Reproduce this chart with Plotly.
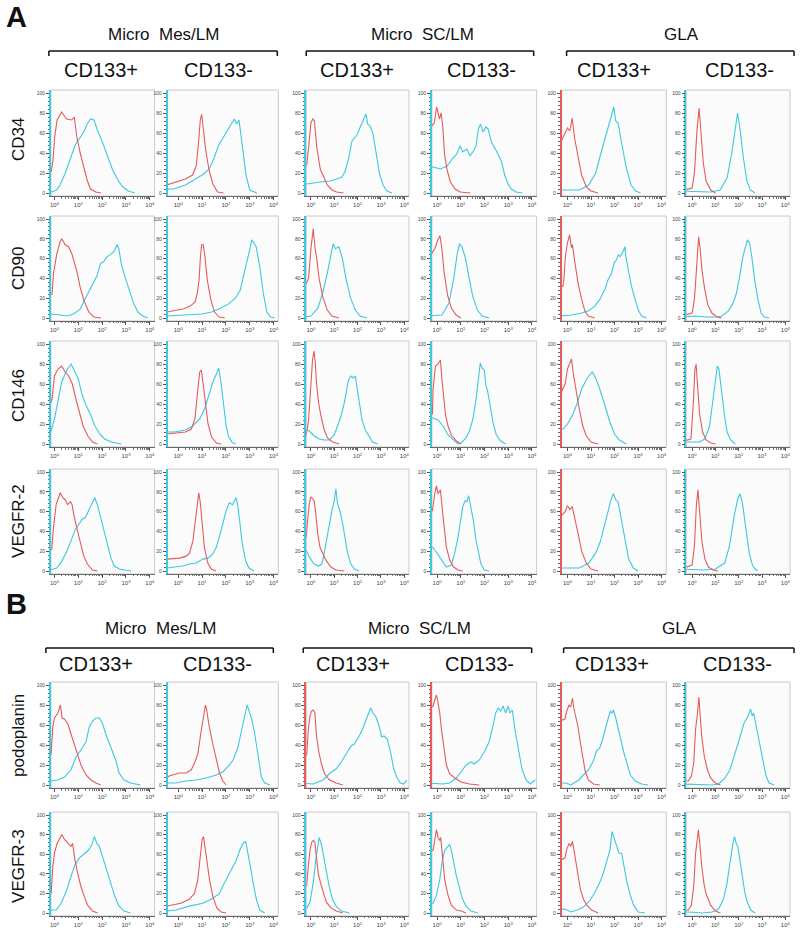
import plotly.graph_objects as go

# ---------------- labels ----------------
ROW_MARKERS = ["CD34", "CD90", "CD146", "VEGFR-2", "podoplanin", "VEGFR-3"]
GROUPS = ["Micro&nbsp; Mes/LM", "Micro&nbsp; SC/LM", "GLA"]
SUBSETS = ["CD133+", "CD133-", "CD133+", "CD133-", "CD133+", "CD133-"]
PANEL_LETTERS = ["A", "B"]
X_TICK_EXP = [0, 1, 2, 3, 4]
Y_TICKS = [0, 20, 40, 60, 80, 100]

# ---------------- data: (log10 fluorescence, % of max) ----------------
# control = red (isotype), stained = cyan; one curve per column
CD34_CONTROL = [
    [(-0.5, 22), (-0.13, 22), (-0.06, 33), (0.01, 56), (0.11, 73), (0.3, 81), (0.51, 74), (0.73, 73), (0.83, 76), (0.94, 56), (1.09, 39), (1.23, 26), (1.37, 13), (1.51, 4), (1.73, 1), (1.95, 0)],
    [(-0.5, 8), (-0.2, 10), (0.3, 14), (0.6, 18), (0.75, 27), (0.85, 50), (0.92, 72), (0.98, 79), (1.05, 65), (1.15, 43), (1.3, 22), (1.45, 9), (1.65, 1), (1.9, 0)],
    [(-0.5, 28), (-0.18, 28), (-0.1, 45), (0, 70), (0.08, 74), (0.15, 72), (0.25, 46), (0.4, 24), (0.55, 16), (0.7, 8), (0.9, 3), (1.1, 1), (1.4, 0)],
    [(-0.5, 60), (-0.12, 70), (-0.02, 86), (0.05, 78), (0.1, 74), (0.17, 80), (0.24, 66), (0.31, 39), (0.42, 23), (0.56, 11), (0.76, 4), (0.97, 1), (1.4, 0)],
    [(-0.5, 40), (-0.1, 60), (0, 65), (0.1, 62), (0.2, 75), (0.3, 55), (0.45, 35), (0.6, 18), (0.8, 6), (1.0, 2), (1.3, 0)],
    [(-0.5, 2), (0, 5), (0.1, 20), (0.2, 60), (0.3, 85), (0.38, 60), (0.48, 30), (0.6, 12), (0.8, 3), (1.0, 0)],
]
CD34_STAINED = [
    [(-0.5, 1), (-0.13, 1), (0.09, 3), (0.23, 8), (0.44, 19), (0.66, 33), (0.87, 48), (1.09, 56), (1.23, 61), (1.37, 69), (1.51, 74), (1.66, 73), (1.8, 63), (2.01, 51), (2.23, 36), (2.44, 23), (2.66, 13), (2.87, 6), (3.09, 2), (3.37, 0)],
    [(-0.5, 4), (-0.2, 4), (0.3, 8), (0.7, 14), (1.0, 18), (1.3, 24), (1.5, 35), (1.7, 48), (2.0, 60), (2.2, 68), (2.35, 74), (2.45, 69), (2.55, 73), (2.7, 45), (2.85, 17), (3.0, 3), (3.3, 0)],
    [(-0.5, 9), (-0.17, 9), (0.4, 11), (0.83, 12), (1.11, 14), (1.33, 16), (1.47, 22), (1.61, 34), (1.76, 52), (1.9, 56), (2.0, 59), (2.11, 66), (2.26, 74), (2.36, 79), (2.43, 69), (2.54, 67), (2.66, 59), (2.8, 39), (2.94, 19), (3.09, 8), (3.26, 2), (3.47, 0)],
    [(-0.5, 26), (-0.17, 26), (0.14, 24), (0.42, 27), (0.63, 34), (0.83, 39), (0.97, 47), (1.08, 41), (1.25, 44), (1.39, 37), (1.53, 42), (1.64, 47), (1.74, 64), (1.83, 69), (1.94, 61), (2.06, 66), (2.15, 64), (2.29, 51), (2.5, 42), (2.71, 32), (2.85, 18), (2.99, 9), (3.13, 4), (3.33, 1), (3.6, 0)],
    [(-0.5, 3), (0.5, 3), (0.9, 8), (1.2, 20), (1.4, 38), (1.6, 55), (1.75, 65), (1.9, 80), (1.97, 86), (2.05, 72), (2.15, 70), (2.3, 50), (2.5, 25), (2.7, 8), (2.9, 2), (3.1, 0)],
    [(-0.5, 2), (0.8, 1), (1.2, 3), (1.5, 15), (1.7, 40), (1.85, 65), (1.95, 80), (2.05, 65), (2.2, 35), (2.35, 12), (2.5, 3), (2.7, 0)],
]

CD90_CONTROL = [
    [(-0.5, 20), (-0.1, 24), (-0.04, 45), (0.1, 65), (0.24, 77), (0.31, 80), (0.45, 74), (0.59, 72), (0.73, 65), (0.83, 57), (0.94, 47), (1.08, 31), (1.23, 18), (1.44, 6), (1.65, 1), (1.95, 0)],
    [(-0.5, 6), (0.2, 9), (0.5, 12), (0.7, 16), (0.8, 25), (0.87, 38), (0.93, 62), (0.98, 74), (1.05, 74), (1.12, 62), (1.22, 38), (1.37, 18), (1.52, 6), (1.72, 1), (1.95, 0)],
    [(-0.5, 20), (-0.1, 40), (0, 70), (0.1, 90), (0.18, 70), (0.25, 60), (0.35, 40), (0.5, 22), (0.7, 8), (0.9, 2), (1.2, 0)],
    [(-0.5, 55), (-0.1, 70), (0.05, 80), (0.12, 83), (0.2, 70), (0.3, 45), (0.45, 22), (0.6, 10), (0.8, 3), (1.0, 0)],
    [(-0.5, 32), (-0.19, 32), (-0.15, 40), (-0.09, 62), (0, 76), (0.09, 84), (0.17, 71), (0.21, 74), (0.31, 57), (0.45, 35), (0.6, 19), (0.74, 7), (0.88, 2), (1.16, 0)],
    [(-0.5, 2), (0, 5), (0.1, 19), (0.17, 45), (0.24, 69), (0.28, 82), (0.34, 71), (0.42, 49), (0.54, 29), (0.68, 13), (0.85, 5), (1.06, 1), (1.27, 0)],
]
CD90_STAINED = [
    [(-0.5, 4), (-0.17, 4), (0.24, 3), (0.52, 2), (0.8, 4), (1.08, 9), (1.3, 20), (1.51, 30), (1.79, 43), (1.93, 55), (2.07, 57), (2.21, 62), (2.35, 64), (2.49, 67), (2.63, 74), (2.7, 70), (2.8, 55), (2.95, 42), (3.1, 30), (3.3, 16), (3.5, 6), (3.7, 2), (3.9, 0)],
    [(-0.5, 2), (0.5, 3), (1.0, 4), (1.4, 6), (1.7, 9), (2.1, 14), (2.4, 20), (2.6, 28), (2.75, 42), (2.88, 57), (3.0, 69), (3.08, 79), (3.17, 76), (3.27, 72), (3.42, 52), (3.57, 25), (3.72, 6), (3.87, 1), (4.05, 0)],
    [(-0.5, 0), (0, 2), (0.3, 10), (0.5, 25), (0.7, 45), (0.85, 65), (0.95, 75), (1.05, 70), (1.2, 72), (1.35, 60), (1.5, 40), (1.7, 20), (1.9, 8), (2.1, 2), (2.4, 0)],
    [(-0.5, 2), (0.2, 3), (0.5, 15), (0.7, 40), (0.85, 65), (0.95, 75), (1.05, 72), (1.2, 60), (1.35, 40), (1.5, 22), (1.7, 8), (1.9, 2), (2.2, 0)],
    [(-0.5, 2), (0.17, 3), (0.6, 5), (0.88, 7), (1.16, 12), (1.38, 19), (1.59, 29), (1.73, 39), (1.87, 45), (1.99, 56), (2.09, 59), (2.16, 64), (2.23, 62), (2.34, 66), (2.44, 72), (2.48, 62), (2.58, 49), (2.72, 32), (2.87, 19), (3.01, 8), (3.15, 2), (3.36, 0)],
    [(-0.5, 1), (0.14, 2), (0.56, 1), (0.99, 1), (1.27, 2), (1.55, 7), (1.76, 15), (1.9, 25), (2.04, 42), (2.18, 62), (2.28, 71), (2.37, 79), (2.46, 76), (2.56, 62), (2.68, 39), (2.82, 19), (2.96, 5), (3.1, 1), (3.31, 0)],
]

CD146_CONTROL = [
    [(-0.5, 20), (-0.1, 45), (0, 68), (0.15, 75), (0.3, 78), (0.45, 72), (0.6, 68), (0.75, 60), (0.9, 45), (1.05, 30), (1.2, 18), (1.4, 8), (1.6, 2), (1.8, 0)],
    [(-0.5, 10), (0.3, 12), (0.55, 15), (0.7, 25), (0.8, 50), (0.9, 72), (0.97, 74), (1.05, 60), (1.15, 40), (1.25, 20), (1.4, 7), (1.6, 1), (1.8, 0)],
    [(-0.5, 9), (-0.2, 9), (-0.1, 24), (0, 64), (0.07, 84), (0.13, 93), (0.19, 81), (0.24, 61), (0.33, 41), (0.43, 28), (0.57, 14), (0.71, 6), (0.93, 2), (1.21, 0)],
    [(-0.5, 30), (-0.2, 30), (-0.17, 55), (-0.07, 78), (0.04, 80), (0.1, 82), (0.14, 84), (0.2, 65), (0.27, 45), (0.35, 30), (0.46, 18), (0.6, 9), (0.81, 3), (1.01, 0)],
    [(-0.5, 40), (-0.1, 60), (0, 75), (0.1, 82), (0.17, 85), (0.25, 70), (0.35, 55), (0.5, 35), (0.65, 18), (0.8, 8), (1.0, 2), (1.3, 0)],
    [(-0.5, 2), (-0.05, 5), (0.05, 40), (0.12, 75), (0.17, 80), (0.23, 60), (0.32, 30), (0.45, 12), (0.6, 4), (0.8, 1), (1.0, 0)],
]
CD146_STAINED = [
    [(-0.5, 10), (-0.18, 10), (0, 25), (0.15, 45), (0.3, 62), (0.45, 70), (0.55, 75), (0.7, 80), (0.85, 72), (1.0, 65), (1.15, 50), (1.3, 40), (1.5, 30), (1.7, 18), (1.9, 10), (2.1, 5), (2.4, 2), (2.8, 0)],
    [(-0.5, 12), (-0.18, 12), (0.3, 14), (0.6, 18), (0.9, 25), (1.1, 35), (1.3, 50), (1.45, 62), (1.6, 70), (1.7, 76), (1.8, 60), (1.9, 40), (2.0, 20), (2.1, 8), (2.25, 2), (2.4, 0)],
    [(-0.5, 14), (-0.19, 14), (-0.07, 13), (0.14, 8), (0.36, 5), (0.57, 4), (0.79, 4), (1.0, 9), (1.14, 18), (1.29, 28), (1.43, 41), (1.53, 54), (1.61, 64), (1.71, 68), (1.81, 66), (1.9, 68), (1.97, 58), (2.07, 41), (2.19, 24), (2.33, 14), (2.47, 8), (2.64, 2), (2.86, 0)],
    [(-0.5, 26), (-0.18, 26), (0.04, 24), (0.25, 18), (0.46, 9), (0.67, 4), (0.88, 0), (1.01, 1), (1.22, 6), (1.36, 13), (1.5, 24), (1.64, 44), (1.75, 64), (1.82, 81), (1.89, 76), (1.99, 74), (2.06, 58), (2.13, 53), (2.24, 38), (2.36, 21), (2.5, 9), (2.68, 3), (2.89, 0)],
    [(-0.5, 15), (-0.18, 15), (0, 20), (0.2, 28), (0.4, 40), (0.6, 55), (0.75, 62), (0.9, 68), (1.05, 72), (1.15, 68), (1.3, 60), (1.45, 50), (1.6, 38), (1.8, 22), (2.0, 10), (2.2, 4), (2.5, 0)],
    [(-0.5, 2), (0.3, 2), (0.55, 5), (0.75, 18), (0.9, 45), (1.0, 65), (1.08, 78), (1.15, 75), (1.25, 55), (1.38, 30), (1.5, 12), (1.65, 4), (1.85, 0)],
]

VEGFR2_CONTROL = [
    [(-0.5, 22), (-0.11, 22), (-0.04, 44), (0.07, 67), (0.17, 74), (0.24, 79), (0.35, 74), (0.45, 72), (0.55, 67), (0.67, 70), (0.74, 67), (0.81, 57), (0.95, 42), (1.09, 27), (1.23, 15), (1.38, 7), (1.59, 1), (1.8, 0)],
    [(-0.5, 12), (0.06, 13), (0.33, 15), (0.47, 18), (0.61, 30), (0.71, 50), (0.79, 70), (0.86, 79), (0.92, 70), (1.0, 47), (1.1, 23), (1.24, 8), (1.38, 2), (1.58, 0)],
    [(-0.5, 34), (-0.2, 34), (-0.14, 51), (-0.07, 68), (0, 75), (0.07, 73), (0.14, 71), (0.21, 58), (0.29, 38), (0.39, 24), (0.5, 18), (0.64, 11), (0.86, 4), (1.07, 1), (1.43, 0)],
    [(-0.5, 61), (-0.2, 61), (-0.1, 78), (-0.03, 86), (0.04, 78), (0.14, 82), (0.22, 62), (0.29, 44), (0.39, 24), (0.53, 11), (0.69, 4), (0.88, 1), (1.08, 0)],
    [(-0.5, 50), (-0.1, 60), (0, 66), (0.1, 62), (0.2, 65), (0.3, 55), (0.45, 38), (0.6, 20), (0.8, 8), (1.0, 2), (1.3, 0)],
    [(-0.5, 2), (0, 6), (0.1, 25), (0.18, 65), (0.25, 82), (0.32, 62), (0.42, 30), (0.55, 12), (0.7, 4), (0.9, 1), (1.1, 0)],
]
VEGFR2_STAINED = [
    [(-0.5, 1), (-0.18, 1), (0.1, 3), (0.31, 10), (0.52, 20), (0.74, 34), (0.88, 42), (1.02, 47), (1.16, 52), (1.3, 54), (1.38, 59), (1.49, 64), (1.59, 69), (1.69, 74), (1.8, 67), (1.94, 54), (2.09, 39), (2.23, 25), (2.37, 13), (2.51, 5), (2.72, 2), (2.94, 1), (3.22, 0)],
    [(-0.5, 3), (0.19, 5), (0.47, 7), (0.75, 8), (1.03, 12), (1.24, 13), (1.44, 17), (1.58, 23), (1.72, 34), (1.86, 47), (2.0, 60), (2.14, 69), (2.28, 67), (2.42, 74), (2.49, 67), (2.58, 50), (2.69, 27), (2.83, 10), (2.97, 3), (3.18, 0)],
    [(-0.5, 21), (-0.19, 21), (-0.07, 14), (0.14, 7), (0.33, 5), (0.47, 7), (0.57, 18), (0.67, 31), (0.79, 48), (0.9, 61), (1.0, 71), (1.07, 83), (1.14, 68), (1.24, 61), (1.36, 48), (1.47, 31), (1.57, 18), (1.71, 7), (1.86, 2), (2.07, 0)],
    [(-0.5, 24), (-0.18, 24), (-0.03, 19), (0.18, 11), (0.39, 4), (0.6, 6), (0.74, 18), (0.88, 34), (0.99, 51), (1.08, 65), (1.18, 71), (1.25, 70), (1.33, 76), (1.43, 65), (1.53, 51), (1.64, 31), (1.75, 18), (1.85, 7), (1.99, 1), (2.19, 0)],
    [(-0.5, 3), (0.5, 3), (0.9, 8), (1.2, 18), (1.4, 30), (1.6, 48), (1.75, 62), (1.85, 72), (1.95, 78), (2.05, 72), (2.15, 70), (2.3, 50), (2.45, 28), (2.6, 12), (2.8, 3), (3.0, 0)],
    [(-0.5, 2), (0.5, 1), (1.0, 2), (1.4, 8), (1.6, 25), (1.8, 55), (1.95, 72), (2.05, 78), (2.15, 70), (2.3, 42), (2.45, 18), (2.6, 5), (2.8, 0)],
]

PODOPLANIN_CONTROL = [
    [(-0.5, 31), (-0.14, 31), (-0.07, 58), (0, 67), (0.14, 72), (0.21, 77), (0.25, 80), (0.32, 67), (0.42, 66), (0.56, 61), (0.69, 51), (0.83, 41), (0.97, 30), (1.11, 20), (1.32, 10), (1.53, 5), (1.74, 2), (1.94, 0)],
    [(-0.5, 7), (-0.38, 9), (-0.24, 10), (0.04, 12), (0.32, 12), (0.54, 15), (0.68, 22), (0.82, 31), (0.96, 54), (1.06, 71), (1.14, 80), (1.2, 74), (1.28, 61), (1.42, 44), (1.56, 28), (1.73, 12), (1.87, 4), (2.01, 0)],
    [(-0.5, 30), (-0.18, 30), (-0.11, 56), (-0.04, 69), (0.03, 74), (0.1, 75), (0.17, 72), (0.24, 49), (0.34, 33), (0.45, 21), (0.59, 11), (0.8, 5), (1.08, 2), (1.37, 0)],
    [(-0.5, 75), (-0.17, 79), (-0.1, 85), (-0.03, 90), (0.04, 82), (0.11, 72), (0.18, 56), (0.28, 36), (0.39, 20), (0.53, 11), (0.74, 7), (1.01, 3), (1.36, 1), (1.78, 0)],
    [(-0.5, 62), (-0.11, 66), (-0.03, 74), (0.07, 80), (0.14, 78), (0.21, 87), (0.27, 77), (0.34, 70), (0.44, 59), (0.55, 42), (0.66, 26), (0.75, 14), (0.89, 5), (1.1, 1), (1.37, 0)],
    [(-0.5, 4), (-0.16, 4), (-0.03, 9), (0.07, 22), (0.15, 56), (0.22, 69), (0.29, 88), (0.34, 72), (0.41, 49), (0.52, 29), (0.66, 15), (0.79, 7), (1.0, 2), (1.21, 0)],
]
PODOPLANIN_STAINED = [
    [(-0.5, 4), (-0.18, 4), (0.14, 5), (0.42, 8), (0.69, 15), (0.9, 28), (1.11, 35), (1.32, 43), (1.46, 58), (1.6, 64), (1.74, 67), (1.88, 67), (2.01, 62), (2.15, 51), (2.36, 38), (2.57, 25), (2.71, 12), (2.92, 5), (3.19, 2), (3.61, 0)],
    [(-0.5, 2), (-0.1, 2), (0.32, 4), (0.75, 5), (1.17, 7), (1.59, 10), (1.87, 13), (2.15, 20), (2.3, 25), (2.51, 38), (2.65, 54), (2.79, 71), (2.89, 80), (2.97, 74), (3.07, 67), (3.21, 51), (3.35, 28), (3.49, 8), (3.63, 2), (3.85, 0)],
    [(-0.5, 2), (0.1, 1), (0.52, 5), (0.87, 13), (1.08, 16), (1.3, 23), (1.51, 31), (1.72, 39), (1.86, 41), (2.07, 49), (2.21, 56), (2.38, 66), (2.49, 74), (2.56, 77), (2.66, 72), (2.77, 69), (2.92, 59), (3.03, 48), (3.13, 49), (3.27, 46), (3.41, 33), (3.55, 16), (3.69, 7), (3.83, 2), (3.97, 1), (4.11, 5)],
    [(-0.5, 2), (0.25, 1), (0.53, 2), (0.81, 7), (1.01, 13), (1.22, 20), (1.43, 23), (1.57, 21), (1.78, 25), (1.99, 33), (2.19, 43), (2.33, 56), (2.47, 72), (2.58, 77), (2.68, 74), (2.78, 79), (2.89, 72), (3.0, 79), (3.06, 72), (3.17, 75), (3.28, 56), (3.42, 36), (3.58, 16), (3.75, 5), (3.93, 1), (4.14, 5)],
    [(-0.5, 2), (-0.07, 2), (0.14, 0), (0.27, 2), (0.48, 5), (0.68, 10), (0.89, 15), (1.1, 24), (1.23, 34), (1.37, 37), (1.51, 47), (1.64, 59), (1.74, 67), (1.82, 74), (1.89, 72), (1.95, 75), (2.03, 69), (2.12, 61), (2.26, 46), (2.4, 32), (2.53, 20), (2.67, 10), (2.88, 4), (3.15, 1), (3.42, 0)],
    [(-0.5, 1), (0.32, 0), (0.86, 0), (1.14, 1), (1.41, 7), (1.62, 15), (1.82, 29), (2.03, 46), (2.23, 62), (2.4, 69), (2.51, 76), (2.58, 69), (2.64, 72), (2.75, 59), (2.89, 42), (3.03, 26), (3.16, 10), (3.3, 2), (3.53, 0)],
]

VEGFR3_CONTROL = [
    [(-0.5, 20), (-0.14, 20), (-0.07, 47), (0, 61), (0.11, 71), (0.21, 76), (0.31, 80), (0.42, 75), (0.56, 71), (0.69, 68), (0.76, 71), (0.86, 54), (0.97, 41), (1.11, 27), (1.25, 17), (1.39, 8), (1.6, 2), (1.81, 0)],
    [(-0.5, 7), (-0.24, 8), (0.11, 10), (0.46, 14), (0.68, 20), (0.82, 34), (0.92, 58), (1.0, 75), (1.06, 78), (1.11, 68), (1.2, 51), (1.31, 34), (1.45, 17), (1.62, 5), (1.8, 1), (2.01, 0)],
    [(-0.5, 28), (-0.18, 28), (-0.11, 48), (-0.04, 64), (0.03, 72), (0.1, 74), (0.17, 72), (0.24, 57), (0.31, 41), (0.41, 31), (0.52, 21), (0.66, 11), (0.87, 5), (1.08, 2), (1.37, 0)],
    [(-0.5, 64), (-0.17, 64), (-0.1, 74), (-0.03, 85), (0.04, 77), (0.11, 74), (0.15, 77), (0.22, 57), (0.32, 34), (0.46, 18), (0.6, 8), (0.81, 3), (1.01, 2), (1.22, 0)],
    [(-0.5, 52), (-0.11, 56), (-0.03, 65), (0.07, 71), (0.14, 68), (0.21, 73), (0.27, 65), (0.34, 55), (0.44, 38), (0.55, 24), (0.68, 14), (0.82, 8), (1.03, 3), (1.3, 0)],
    [(-0.5, 3), (-0.16, 3), (-0.03, 8), (0.07, 28), (0.15, 61), (0.22, 75), (0.27, 85), (0.33, 71), (0.41, 48), (0.52, 28), (0.62, 18), (0.7, 14), (0.79, 8), (1.0, 2), (1.21, 0)],
]
VEGFR3_STAINED = [
    [(-0.5, 3), (0.07, 3), (0.28, 10), (0.49, 22), (0.69, 37), (0.86, 49), (1.04, 56), (1.25, 61), (1.42, 64), (1.56, 69), (1.67, 78), (1.78, 71), (1.88, 68), (2.01, 58), (2.19, 44), (2.36, 31), (2.53, 17), (2.71, 7), (2.92, 2), (3.19, 0)],
    [(-0.5, 2), (-0.1, 3), (0.46, 7), (1.03, 10), (1.45, 15), (1.73, 20), (1.94, 31), (2.15, 41), (2.3, 47), (2.44, 54), (2.58, 64), (2.72, 71), (2.83, 73), (2.93, 61), (3.03, 47), (3.14, 31), (3.28, 14), (3.42, 3), (3.63, 0)],
    [(-0.5, 5), (-0.18, 5), (-0.04, 11), (0.1, 31), (0.21, 54), (0.28, 67), (0.35, 77), (0.45, 70), (0.55, 57), (0.66, 41), (0.8, 25), (0.94, 13), (1.08, 7), (1.3, 2), (1.65, 0)],
    [(-0.5, 10), (-0.17, 10), (-0.03, 18), (0.11, 34), (0.22, 54), (0.32, 64), (0.42, 67), (0.53, 70), (0.6, 64), (0.69, 51), (0.81, 38), (0.92, 28), (1.06, 15), (1.22, 7), (1.43, 2), (1.71, 0)],
    [(-0.5, 4), (-0.11, 4), (0.14, 1), (0.41, 3), (0.68, 6), (0.96, 13), (1.16, 21), (1.37, 31), (1.53, 41), (1.71, 55), (1.81, 65), (1.89, 83), (1.99, 75), (2.08, 68), (2.19, 61), (2.3, 61), (2.4, 48), (2.53, 31), (2.67, 18), (2.81, 8), (3.01, 1), (3.29, 0)],
    [(-0.5, 1), (-0.16, 1), (0.45, 0), (0.86, 1), (1.14, 4), (1.34, 14), (1.48, 28), (1.58, 45), (1.66, 58), (1.75, 71), (1.82, 78), (1.89, 71), (1.96, 68), (2.05, 55), (2.16, 35), (2.26, 21), (2.37, 11), (2.51, 3), (2.71, 0)],
]

ROW_CONTROL = [CD34_CONTROL, CD90_CONTROL, CD146_CONTROL, VEGFR2_CONTROL, PODOPLANIN_CONTROL, VEGFR3_CONTROL]
ROW_STAINED = [CD34_STAINED, CD90_STAINED, CD146_STAINED, VEGFR2_STAINED, PODOPLANIN_STAINED, VEGFR3_STAINED]

# ---------------- styling / geometry (pixels in an 800 x 936 page) ----------------
W, H = 800, 936
RED = "#e35b5b"
CYAN = "#3cc8e0"
FONT = "Liberation Sans, Arial, sans-serif"
COL_PX = [(50, 154), (167, 278), (306, 409), (432, 537), (562, 667), (687, 791)]
X_START = [-0.15, -0.45, -0.2, -0.22, -0.25, -0.25]
X_END = 4.2
ROW_PX = [(93, 193), (219, 318), (344, 444), (472, 571), (685, 785), (815, 913)]  # (y of 100, y of 0)
Y_LO, Y_HI = -3, 103
AXIS_TINT = [
    [CYAN, CYAN, CYAN, CYAN, RED, CYAN],
    [CYAN, CYAN, CYAN, CYAN, RED, CYAN],
    [CYAN, CYAN, CYAN, CYAN, RED, CYAN],
    [CYAN, CYAN, CYAN, CYAN, RED, CYAN],
    [CYAN, CYAN, RED, RED, RED, CYAN],
    [CYAN, CYAN, CYAN, CYAN, RED, CYAN],
]

fig = go.Figure()
layout = {}
shapes = []
annotations = []

minor_x = [m * 10 ** e for e in range(0, 4) for m in range(2, 10)]

for r in range(6):
    y100, y0 = ROW_PX[r]
    unit = (y0 - y100) / 100.0
    top = y100 - (Y_HI - 100) * unit
    bot = y0 + (0 - Y_LO) * unit
    for c in range(6):
        k = r * 6 + c + 1
        xa = "x" if k == 1 else f"x{k}"
        ya = "y" if k == 1 else f"y{k}"
        xl, xr = COL_PX[c]
        for curve, color in ((ROW_STAINED[r][c], CYAN), (ROW_CONTROL[r][c], RED)):
            fig.add_trace(go.Scatter(
                x=[10 ** d for d, _ in curve], y=[v for _, v in curve],
                mode="lines", line=dict(color=color, width=1.1),
                xaxis=xa, yaxis=ya, showlegend=False, hoverinfo="skip"))
        layout["xaxis" if k == 1 else f"xaxis{k}"] = dict(
            domain=[xl / W, xr / W], anchor=ya, type="log",
            range=[X_START[c], X_END], showgrid=False, zeroline=False,
            showline=True, linecolor="#6a6a6a", linewidth=1,
            tickmode="array", tickvals=[10 ** e for e in X_TICK_EXP],
            ticktext=[f"10<sup>{e}</sup>" for e in X_TICK_EXP],
            ticks="outside", ticklen=3, tickwidth=1, tickcolor="#555",
            tickfont=dict(size=6, color="#444", family=FONT),
            minor=dict(tickmode="array", tickvals=minor_x, ticks="outside",
                       ticklen=1.5, tickcolor="#777", tickwidth=1),
            fixedrange=True)
        layout["yaxis" if k == 1 else f"yaxis{k}"] = dict(
            domain=[1 - bot / H, 1 - top / H], anchor=xa,
            range=[Y_LO, Y_HI], showgrid=False, zeroline=False,
            showline=True, linecolor=AXIS_TINT[r][c], linewidth=1.5,
            tickmode="array", tickvals=Y_TICKS,
            ticks="outside", ticklen=3, tickwidth=1, tickcolor="#555",
            tickfont=dict(size=5, color="#444", family=FONT),
            minor=dict(dtick=4, ticks="outside", ticklen=1.5,
                       tickcolor="#666", tickwidth=1),
            fixedrange=True)
        shapes.append(dict(type="rect", xref=f"{xa} domain", yref=f"{ya} domain",
                           x0=0, x1=1, y0=0, y1=1, layer="below",
                           line=dict(color="#c9c9c9", width=1)))


def px(x, y):
    return x / W, 1 - y / H


def text(s, x, y, size, angle=0, bold=False):
    tx, ty = px(x, y)
    annotations.append(dict(
        text=f"<b>{s}</b>" if bold else s, x=tx, y=ty, xref="paper", yref="paper",
        showarrow=False, xanchor="center", yanchor="middle", textangle=angle,
        font=dict(size=size, color="#111", family=FONT)))


def bracket(x0, x1, y, drop=5):
    for (a, b, c_, d_) in ((x0, y, x1, y), (x0, y, x0, y + drop), (x1, y, x1, y + drop)):
        p0 = px(a, b)
        p1 = px(c_, d_)
        shapes.append(dict(type="line", xref="paper", yref="paper",
                           x0=p0[0], y0=p0[1], x1=p1[0], y1=p1[1],
                           line=dict(color="#111", width=1.5)))


# Panel letters
text(PANEL_LETTERS[0], 16, 17, 29, bold=True)
text(PANEL_LETTERS[1], 16, 604, 29, bold=True)

# Section A headers
GROUP_X_A = [163, 423, 682]
BRACKET_A = [(48, 277), (306, 534), (567, 795)]
SUB_X_A = [100, 218, 357, 482, 615, 740]
for g in range(3):
    text(GROUPS[g], GROUP_X_A[g], 35, 17)
    bracket(BRACKET_A[g][0], BRACKET_A[g][1], 51)
for i in range(6):
    text(SUBSETS[i], SUB_X_A[i], 70, 20)

# Section B headers
GROUP_X_B = [160, 420, 680]
BRACKET_B = [(45, 273), (303, 532), (564, 795)]
SUB_X_B = [95, 217, 353, 480, 613, 738]
for g in range(3):
    text(GROUPS[g], GROUP_X_B[g], 628, 17)
    bracket(BRACKET_B[g][0], BRACKET_B[g][1], 648)
for i in range(6):
    text(SUBSETS[i], SUB_X_B[i], 664, 20)

# Row labels
ROW_LABEL_Y = [139, 268, 395, 521, 735, 866]
for r in range(6):
    text(ROW_MARKERS[r], 17, ROW_LABEL_Y[r], 17, angle=-90)

layout.update(dict(
    width=W, height=H, margin=dict(l=0, r=0, t=0, b=0),
    paper_bgcolor="white", plot_bgcolor="#fbfbfb",
    shapes=shapes, annotations=annotations, showlegend=False,
    font=dict(family=FONT)))
fig.update_layout(**layout)
fig.write_html("out.html", config={"displayModeBar": False},
               post_script="document.body.style.margin='0px';")
